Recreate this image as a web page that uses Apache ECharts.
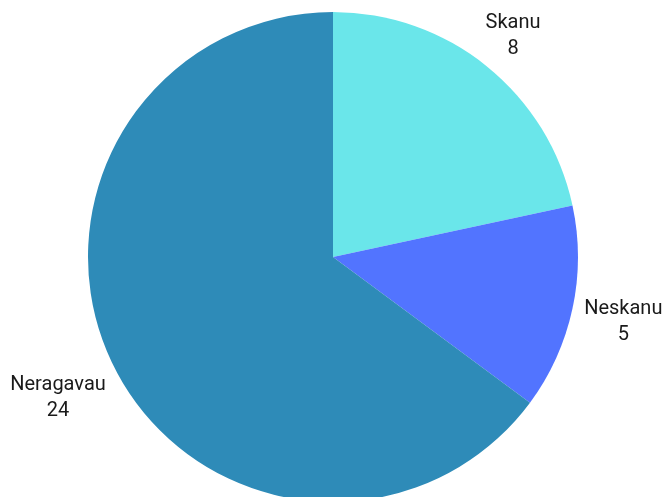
<!DOCTYPE html>
<html>
<head>
<meta charset="utf-8">
<script src="https://cdn.jsdelivr.net/npm/echarts@6/dist/echarts.min.js"></script>
<style>html,body{margin:0;padding:0;background:#fff}#c{width:666px;height:497px}</style>
</head>
<body>
<div id="c"></div>
<script>
const categories = ['Skanu', 'Neskanu', 'Neragavau'];
const values = [8, 5, 24];
const colors = ['#6ae6ea', '#5274ff', '#2e8bb8'];
const labelRadiusFactor = [1.17, 1.212, 1.257];

const CX = 333, CY = 257, R = 245;
const total = values.reduce((a, b) => a + b, 0);
function midAngle(i) {
  let before = 0;
  for (let k = 0; k < i; k++) before += values[k];
  const mid = (before + values[i] / 2) / total * 2 * Math.PI;
  return Math.PI / 2 - mid; // clockwise from top
}

const chart = echarts.init(document.getElementById('c'), null, {renderer: 'canvas'});
chart.setOption({
  animation: false,
  series: [{
    type: 'pie',
    center: [CX, CY],
    radius: [0, R],
    startAngle: 90,
    clockwise: true,
    avoidLabelOverlap: false,
    data: categories.map((c, i) => ({name: c, value: values[i], itemStyle: {color: colors[i]}})),
    itemStyle: {borderWidth: 0},
    label: {
      show: true,
      position: 'outside',
      formatter: '{b}\n{c}',
      fontFamily: 'Roboto, sans-serif',
      fontSize: 20,
      lineHeight: 26,
      color: '#1a1a1a',
      align: 'center'
    },
    labelLine: {show: false},
    labelLayout: function (p) {
      const i = p.dataIndex;
      const a = midAngle(i);
      const rr = R * labelRadiusFactor[i];
      return {
        x: CX + rr * Math.cos(a),
        y: CY - rr * Math.sin(a) + 2,
        align: 'center',
        verticalAlign: 'middle'
      };
    }
  }]
});
</script>
</body>
</html>
